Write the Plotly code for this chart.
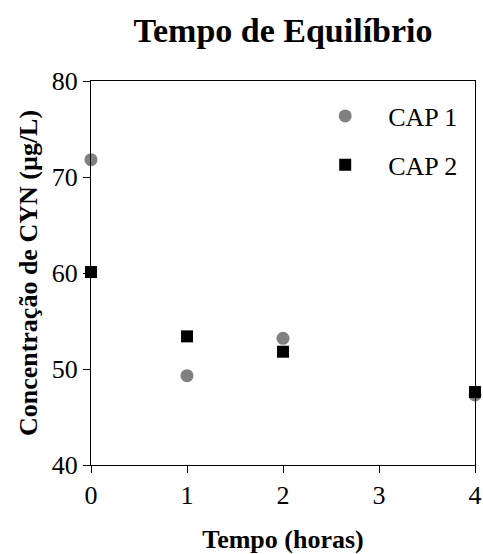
import plotly.graph_objects as go

tempo = [0, 1, 2, 4]
cap1 = [71.8, 49.3, 53.2, 47.3]
cap2 = [60.1, 53.4, 51.8, 47.6]
x_ticks = [0, 1, 2, 3, 4]
y_ticks = [40, 50, 60, 70, 80]

serif = "Liberation Serif, Times New Roman, serif"

fig = go.Figure()
fig.add_trace(go.Scatter(x=tempo, y=cap1, mode="markers", name="CAP 1", legendgroup="a",
                         marker=dict(symbol="circle", size=13, color="#808080"), cliponaxis=False))
fig.add_trace(go.Scatter(x=tempo, y=cap2, mode="markers", name="CAP 2", legendgroup="b",
                         marker=dict(symbol="square", size=12, color="#000000"), cliponaxis=False))

fig.update_layout(
    width=483, height=554,
    margin=dict(l=91, r=8, t=81, b=89),
    paper_bgcolor="white", plot_bgcolor="white",
    font=dict(family=serif, size=26, color="black"),
    title=dict(text="<b>Tempo de Equilíbrio</b>", x=(91 + 475) / 2 / 483, xanchor="center",
               y=1 - 30 / 554, yanchor="middle", font=dict(size=34, family=serif)),
    legend=dict(x=0.55, y=0.97, xanchor="left", yanchor="top", bgcolor="rgba(0,0,0,0)",
                font=dict(size=26, family=serif), tracegroupgap=12, traceorder="grouped",
                itemwidth=76),
    showlegend=True,
)
fig.update_xaxes(range=[0, 4], tickvals=x_ticks, ticks="outside", ticklen=7, tickcolor="black",
                 showline=True, linecolor="black", linewidth=1, mirror=True, showgrid=False,
                 zeroline=False, tickfont=dict(size=26), automargin=False,
                 title=dict(text="<b>Tempo (horas)</b>", font=dict(size=26), standoff=21))
fig.update_yaxes(range=[40, 80], tickvals=y_ticks, ticks="outside", ticklen=7, tickcolor="black",
                 showline=True, linecolor="black", linewidth=1, mirror=True, showgrid=False,
                 zeroline=False, tickfont=dict(size=26), automargin=False,
                 title=dict(text="<b>Concentração de CYN (µg/L)</b>", font=dict(size=26), standoff=6))

fig.write_html("out.html")
